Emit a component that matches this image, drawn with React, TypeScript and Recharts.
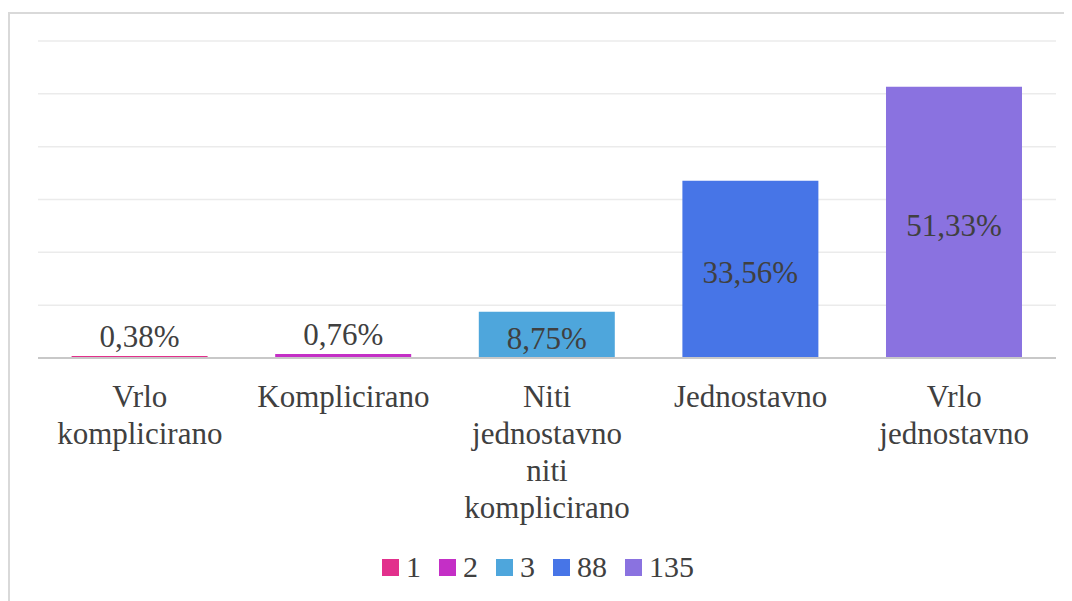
import { BarChart, Bar, Cell, XAxis, YAxis, CartesianGrid, Legend, LabelList } from 'recharts';

const categories = ['Vrlo\nkomplicirano', 'Komplicirano', 'Niti\njednostavno\nniti\nkomplicirano', 'Jednostavno', 'Vrlo\njednostavno'];
const percentages = [0.38, 0.76, 8.75, 33.56, 51.33];
const legendNames = ['1', '2', '3', '88', '135'];
const yTicks = [0, 10, 20, 30, 40, 50, 60];

const barColors = ['#E2308C', '#C42FC6', '#4EA6DC', '#4775E7', '#8A72E0'];
const FONT = "'Liberation Serif', 'DejaVu Serif', 'Times New Roman', serif";
const TEXT = '#404040';

const data = categories.map((name, i) => ({ name, value: percentages[i] }));

const fmt = (v: number) => v.toFixed(2).replace('.', ',') + '%';

function CategoryTick({ x, y, payload }: any) {
  const lines = String(payload.value).split('\n');
  return (
    <text x={x} y={y} textAnchor="middle" fill={TEXT} style={{ fontFamily: FONT }} fontSize={31}>
      {lines.map((l, i) => (
        <tspan key={i} x={x} dy={i === 0 ? 41 : 37}>{l}</tspan>
      ))}
    </text>
  );
}

function ValueLabel({ x, y, width, height, value }: any) {
  const small = height < 30;
  const cy = small ? y - 20 : y + height / 2 + 3;
  return (
    <text x={x + width / 2} y={cy} dy="0.35em" textAnchor="middle" fill={TEXT} style={{ fontFamily: FONT }} fontSize={31}>
      {fmt(value)}
    </text>
  );
}

function LegendBox() {
  return (
    <div style={{ display: 'flex', justifyContent: 'center', alignItems: 'center', fontFamily: FONT, fontSize: 30, color: TEXT, height: 40 }}>
      {legendNames.map((n, i) => (
        <div key={n} style={{ display: 'flex', alignItems: 'center', marginRight: 18 }}>
          <span style={{ width: 17, height: 17, background: barColors[i], display: 'inline-block', marginRight: 7 }} />
          <span>{n}</span>
        </div>
      ))}
    </div>
  );
}

export default function App() {
  return (
    <div style={{ marginTop: 4, width: 1062, height: 587, borderLeft: '2px solid #d9d9d9', borderTop: '2px solid #d9d9d9', background: '#fff' }}>
      <BarChart width={1062} height={585} data={data} margin={{ top: 27, right: 16, left: 28, bottom: 12 }} barCategoryGap="16.5%">
        <CartesianGrid vertical={false} stroke="#ebebeb" strokeWidth={1.5} />
        <XAxis dataKey="name" tick={<CategoryTick />} tickLine={false} axisLine={{ stroke: '#c8c8c8', strokeWidth: 2 }} height={189} interval={0} />
        <YAxis hide domain={[0, 60]} ticks={yTicks} />
        <Legend verticalAlign="bottom" height={40} content={() => <LegendBox />} />
        <Bar dataKey="value" isAnimationActive={false}>
          {data.map((d, i) => (
            <Cell key={d.name} fill={barColors[i]} />
          ))}
          <LabelList dataKey="value" content={<ValueLabel />} />
        </Bar>
      </BarChart>
    </div>
  );
}
